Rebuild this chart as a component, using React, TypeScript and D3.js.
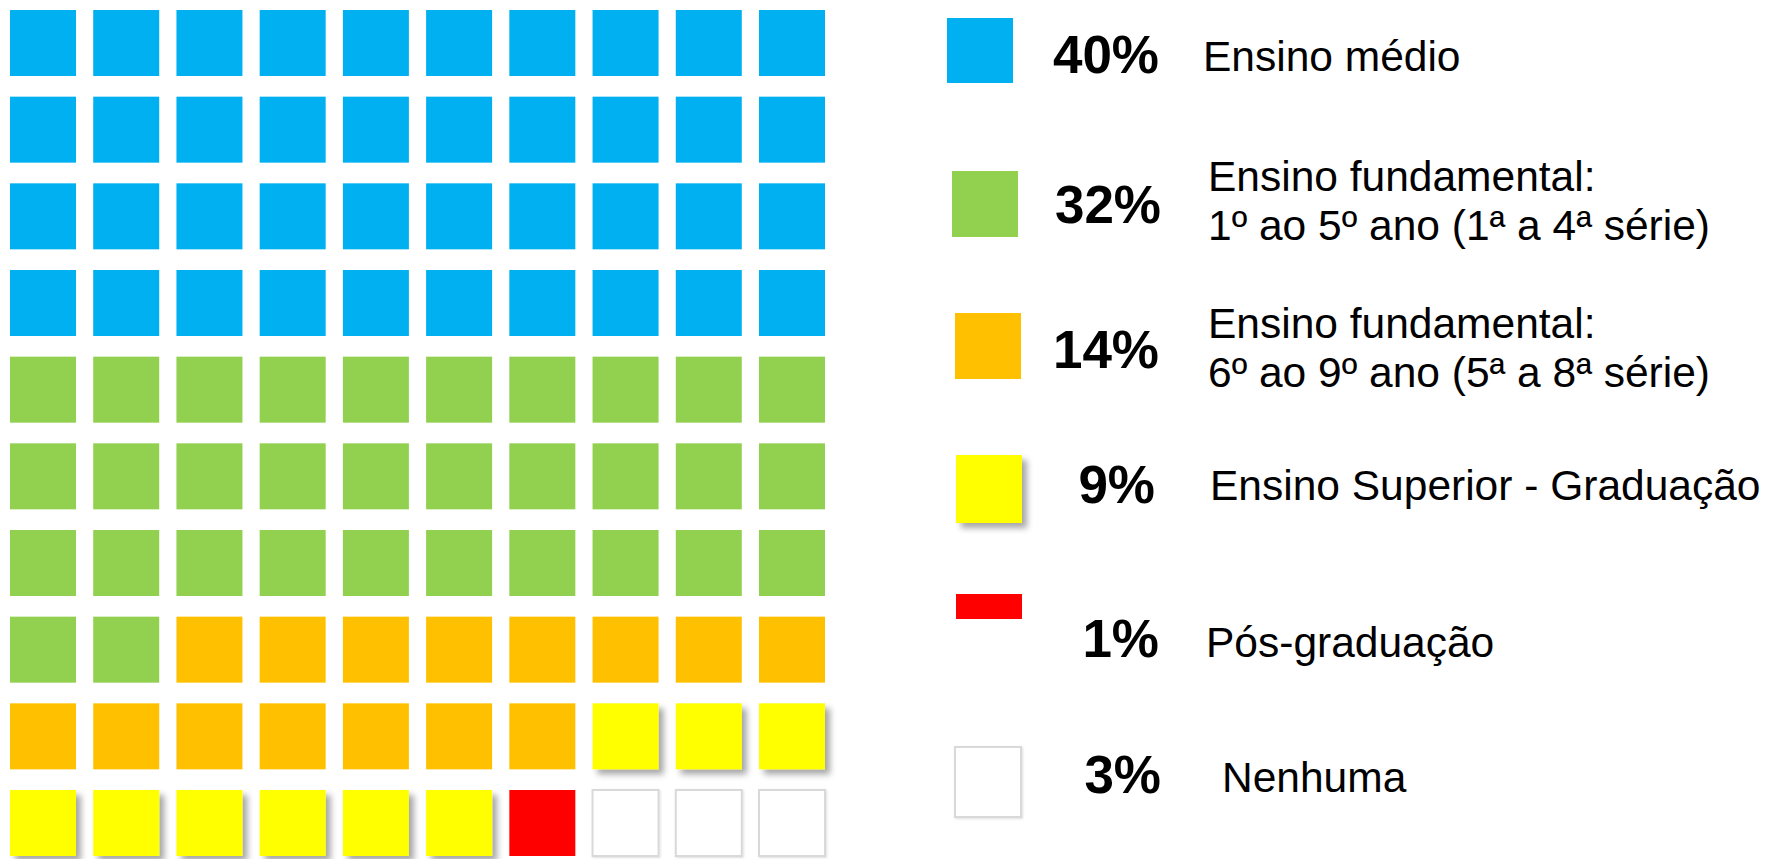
import React, { useEffect, useRef } from "react";
import * as d3 from "d3";

// categories and their data
const categories = [
  "Ensino médio",
  "Ensino fundamental 1",
  "Ensino fundamental 2",
  "Ensino Superior",
  "Pós-graduação",
  "Nenhuma",
];
const squareCounts = [40, 32, 15, 9, 1, 3];
const percentLabels = ["40%", "32%", "14%", "9%", "1%", "3%"];
const legendLines = [
  ["Ensino médio"],
  ["Ensino fundamental:", "1º ao 5º ano (1ª a 4ª série)"],
  ["Ensino fundamental:", "6º ao 9º ano (5ª a 8ª série)"],
  ["Ensino Superior - Graduação"],
  ["Pós-graduação"],
  ["Nenhuma"],
];
const colors = ["#00B0F0", "#92D050", "#FFC000", "#FFFF00", "#FF0000", "#FFFFFF"];

// legend layout (swatch x/top/height, baseline of percent, label x and first baseline)
const legendLayout = [
  { sx: 947, sy: 18, sh: 65, px: 1159, py: 73, lx: 1203, ly: 71 },
  { sx: 952, sy: 171, sh: 66, px: 1161, py: 223, lx: 1208, ly: 191 },
  { sx: 955, sy: 313, sh: 66, px: 1159, py: 368, lx: 1208, ly: 338 },
  { sx: 956, sy: 455, sh: 68, px: 1155, py: 503, lx: 1210, ly: 500 },
  { sx: 956, sy: 594, sh: 25, px: 1159, py: 657, lx: 1206, ly: 657 },
  { sx: 955, sy: 747, sh: 70, px: 1161, py: 793, lx: 1222, ly: 792 },
];

const width = 1768;
const height = 859;
const cols = 10;
const rows = 10;
const cell = 66;

const App = () => {
  const ref = useRef<SVGSVGElement>(null);

  useEffect(() => {
    const svg = d3.select(ref.current);
    svg.selectAll("*").remove();

    const defs = svg.append("defs");
    const shadow = defs.append("filter")
      .attr("id", "shadow")
      .attr("x", "-20%").attr("y", "-20%")
      .attr("width", "150%").attr("height", "150%");
    shadow.append("feDropShadow")
      .attr("dx", 5).attr("dy", 5)
      .attr("stdDeviation", 3)
      .attr("flood-color", "#000")
      .attr("flood-opacity", 0.35);
    const soft = defs.append("filter")
      .attr("id", "soft")
      .attr("x", "-20%").attr("y", "-20%")
      .attr("width", "150%").attr("height", "150%");
    soft.append("feDropShadow")
      .attr("dx", 1).attr("dy", 1)
      .attr("stdDeviation", 1)
      .attr("flood-color", "#000")
      .attr("flood-opacity", 0.12);

    // one cell per percent, filled row by row
    const cells: number[] = [];
    squareCounts.forEach((n, ci) => {
      for (let k = 0; k < n; k++) cells.push(ci);
    });

    const xScale = d3.scaleLinear().domain([0, cols - 1]).range([10, 759]);
    const yScale = d3.scaleLinear().domain([0, rows - 1]).range([10, 790]);

    svg.append("g")
      .selectAll("rect")
      .data(cells)
      .enter()
      .append("rect")
      .attr("x", (d, i) => xScale(i % cols))
      .attr("y", (d, i) => yScale(Math.floor(i / cols)))
      .attr("width", cell)
      .attr("height", cell)
      .attr("fill", d => colors[d])
      .attr("stroke", d => (d === 5 ? "#d9d9d9" : "none"))
      .attr("stroke-width", 2)
      .attr("filter", d => (d === 3 ? "url(#shadow)" : d === 5 ? "url(#soft)" : null))
      .attr("data-category", d => categories[d]);

    // legend
    const legend = svg.append("g")
      .style("font-family", "'Liberation Sans', Arial, sans-serif");

    const items = legend.selectAll("g")
      .data(categories)
      .enter()
      .append("g");

    items.append("rect")
      .attr("x", (d, i) => legendLayout[i].sx)
      .attr("y", (d, i) => legendLayout[i].sy)
      .attr("width", 66)
      .attr("height", (d, i) => legendLayout[i].sh)
      .attr("fill", (d, i) => colors[i])
      .attr("stroke", (d, i) => (i === 5 ? "#d9d9d9" : "none"))
      .attr("stroke-width", 2)
      .attr("filter", (d, i) => (i === 3 ? "url(#shadow)" : i === 5 ? "url(#soft)" : null));

    items.append("text")
      .attr("x", (d, i) => legendLayout[i].px)
      .attr("y", (d, i) => legendLayout[i].py)
      .attr("text-anchor", "end")
      .style("font-size", "53px")
      .style("font-weight", "bold")
      .style("fill", "#000")
      .text((d, i) => percentLabels[i]);

    items.each(function (d, i) {
      const lay = legendLayout[i];
      const t = d3.select(this).append("text")
        .attr("x", lay.lx)
        .attr("y", lay.ly)
        .style("font-size", "42.5px")
        .style("fill", "#000");
      legendLines[i].forEach((line, li) => {
        t.append("tspan")
          .attr("x", lay.lx)
          .attr("dy", li === 0 ? 0 : 49)
          .text(line);
      });
    });
  }, []);

  return (
    <svg
      ref={ref}
      width={width}
      height={height}
      style={{ position: "absolute", left: 0, top: 0, display: "block", background: "#fff" }}
    />
  );
};

export default App;
